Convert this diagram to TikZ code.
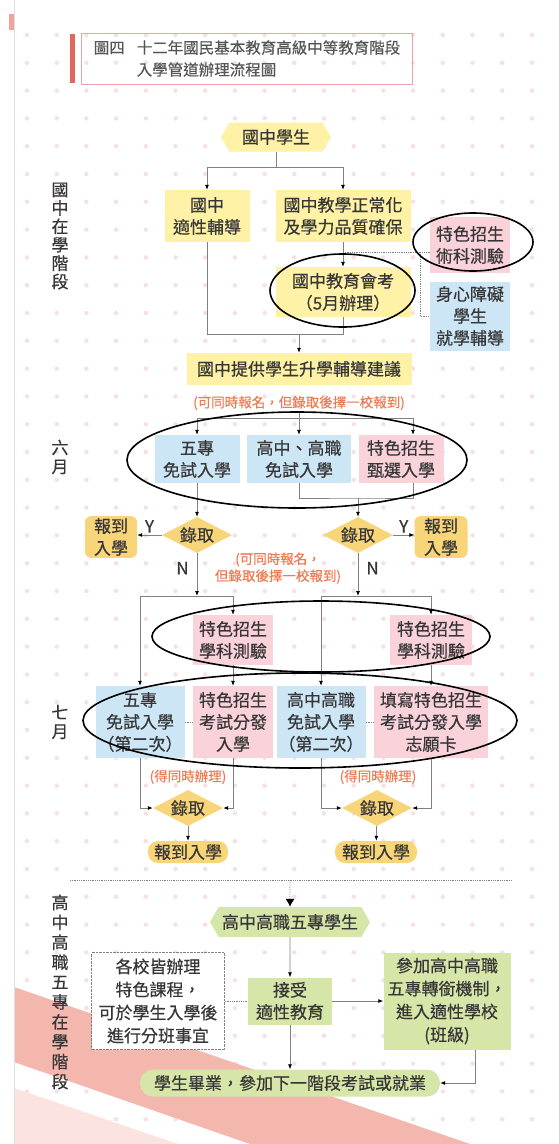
\documentclass[tikz,border=0pt]{standalone}
\usepackage{fontspec}
\newfontfamily\cjk[FakeBold=0.4]{Noto Sans CJK TC}
\usepackage{xcolor}
\usetikzlibrary{arrows.meta,shapes.geometric,shapes.symbols,positioning}

\definecolor{BoxYellow}{HTML}{FFF2A6}
\definecolor{BoxBlue}{HTML}{CDE6F6}
\definecolor{BoxPink}{HTML}{F9D2DA}
\definecolor{BoxGreen}{HTML}{D6E6A8}
\definecolor{BoxGold}{HTML}{F9D57A}
\definecolor{LineGray}{HTML}{808080}
\definecolor{TextGray}{HTML}{363636}
\definecolor{TitleText}{HTML}{555555}
\definecolor{NoteRed}{HTML}{EE7A52}
\definecolor{DotPink}{HTML}{F8DFE3}
\definecolor{BandPink}{HTML}{F3B7AE}
\definecolor{BandLight}{HTML}{FBE4DF}
\definecolor{TitleRed}{HTML}{E4655C}
\definecolor{TitleLine}{HTML}{EDA3A3}

\begin{document}
\begin{tikzpicture}[x=1pt, y=-1pt, >={Latex[length=5pt,width=4pt,black]},
    every node/.style={font=\cjk\fontsize{17}{22}\selectfont, text=TextGray, inner sep=2pt},
    ybox/.style={fill=BoxYellow, align=center},
    bbox/.style={fill=BoxBlue, align=center},
    pbox/.style={fill=BoxPink, align=center},
    gbox/.style={fill=BoxGreen, align=center},
    hexa/.style={signal, signal to=west and east, signal pointer angle=120, inner sep=0pt},
    dec/.style={diamond, aspect=1.9, fill=BoxGold, inner sep=0pt, minimum width=70pt, minimum height=36pt},
    reg/.style={fill=BoxGold, align=center},
    note/.style={text=NoteRed, font=\cjk\fontsize{13.5}{17}\selectfont, align=center},
    vlab/.style={align=center, font=\cjk\fontsize{17}{#1}\selectfont},
    link/.style={draw=LineGray, line width=0.8pt},
    hint/.style={draw=LineGray, densely dotted, line width=0.8pt},
    ring/.style={draw=black, line width=1.6pt}]
    \useasboundingbox (0,0) rectangle (558,1144);

    %% Background
    \fill[white] (0,0) rectangle (558,1144);
    \foreach \i in {0,...,17}
      \foreach \j in {0,...,39}
        \fill[DotPink] (27+29.7*\i, 35+27.8*\j) circle (2.2pt);
    \fill[BandPink] (14,987) -- (470,1144) -- (250,1144) -- (14,1062) -- cycle;
    \fill[BandLight] (14,1088) -- (178,1144) -- (14,1144) -- cycle;
    \draw[gray!25, line width=1pt] (14.5,0) -- (14.5,1144);
    \fill[TitleRed!60] (9,14) rectangle (14,30);

    %% Title
    \fill[TitleRed] (70,34) rectangle (75,83);
    \node at (247,58.5) [draw=TitleLine, line width=0.8pt, minimum width=331pt, minimum height=51pt, align=left, text=TitleText, font=\cjk\fontsize{15.5}{22}\selectfont](title){圖四\hspace{12pt}十二年國民基本教育高級中等教育階段\\\hspace{43pt}入學管道辦理流程圖};

    %% Stage labels
    \node at (60,236) [vlab=18.4](lab1){國\\中\\在\\學\\階\\段};
    \node at (60,457) [vlab=19](lab2){六\\月};
    \node at (60,722) [vlab=19](lab3){七\\月};
    \node at (60,992) [vlab=19.9](lab4){高\\中\\高\\職\\五\\專\\在\\學\\階\\段};

    %% Junior high stage
    \node at (276,137) [hexa, fill=BoxYellow, minimum width=110pt, minimum height=29pt](stu){國中學生};
    \node at (stu) [xshift=-69pt, yshift=-79pt, ybox, minimum width=85pt, minimum height=52pt](gui){國中\\適性輔導};
    \node at (gui) [xshift=136pt, ybox, minimum width=135pt, minimum height=52pt](nor){國中教學正常化\\及學力品質確保};
    \node at (nor) [yshift=-76pt, ybox, minimum width=135pt, minimum height=50pt](exa){國中教育會考\\（5月辦理）};
    \node at (nor) [xshift=127pt, yshift=-29pt, pbox, minimum width=80pt, minimum height=56pt](art){特色招生\\術科測驗};
    \node at (art) [yshift=-71pt, bbox, minimum width=80pt, minimum height=69pt](dis){身心障礙\\學生\\就學輔導};
    \node at (exa) [xshift=-44pt, yshift=-77pt, ybox, minimum width=225pt, minimum height=32pt](adv){國中提供學生升學輔導建議};
    \node at (adv) [yshift=-34pt, note](note1){(可同時報名，但錄取後擇一校報到)};

    %% June
    \node at (adv) [yshift=-90pt, bbox, minimum width=104pt, minimum height=48pt](hig){高中、高職\\免試入學};
    \node at (hig) [xshift=-102pt, bbox, minimum width=85pt, minimum height=48pt](five){五專\\免試入學};
    \node at (hig) [xshift=102pt, pbox, minimum width=85pt, minimum height=48pt](sel){特色招生\\甄選入學};
    \node at (five) [yshift=-76pt, dec](dL){錄取};
    \node at (hig) [xshift=59pt, yshift=-76pt, dec](dR){錄取};
    \node at (dL) [xshift=-86pt, yshift=-2pt, reg, rounded corners=6pt, minimum width=52pt, minimum height=41pt](regL){報到\\入學};
    \node at (dR) [xshift=83pt, yshift=-2pt, reg, rounded corners=6pt, minimum width=53pt, minimum height=41pt](regR){報到\\入學};
    \node at (dL) [xshift=81pt, yshift=-33pt, note](note2){(可同時報名，\\但錄取後擇一校報到)};

    %% July
    \node at (dL) [xshift=36pt, yshift=-105pt, pbox, minimum width=80pt, minimum height=50pt](subL){特色招生\\學科測驗};
    \node at (subL) [yshift=-82pt, pbox, minimum width=80pt, minimum height=72pt](disL){特色招生\\考試分發\\入學};
    \node at (disL) [xshift=-93pt, bbox, minimum width=80pt, minimum height=72pt](fiveB){五專\\免試入學\\（第二次）};
    \node at (dR) [xshift=73pt, yshift=-105pt, pbox, minimum width=82pt, minimum height=50pt](subR){特色招生\\學科測驗};
    \node at (subR) [yshift=-82pt, pbox, minimum width=114pt, minimum height=72pt](fill){填寫特色招生\\考試分發入學\\志願卡};
    \node at (fill) [xshift=-110pt, bbox, minimum width=80pt, minimum height=72pt](higB){高中高職\\免試入學\\（第二次）};
    \node at (disL) [xshift=-45pt, yshift=-55pt, note](note3){(得同時辦理)};
    \node at (fill) [xshift=-53pt, yshift=-55pt, note](note4){(得同時辦理)};
    \node at (note3) [yshift=-31pt, dec](dL2){錄取};
    \node at (note4) [xshift=-1pt, yshift=-31pt, dec](dR2){錄取};
    \node at (dL2) [yshift=-44pt, reg, rounded corners=10pt, minimum width=80pt, minimum height=22pt, inner sep=0pt](regL2){報到入學};
    \node at (dR2) [xshift=-1pt, yshift=-44pt, reg, rounded corners=10pt, minimum width=82pt, minimum height=22pt, inner sep=0pt](regR2){報到入學};

    %% Senior high stage
    \node at (290,922) [hexa, fill=BoxGreen, minimum width=160pt, minimum height=30pt](sec){高中高職五專學生};
    \node at (sec) [yshift=-79pt, gbox, minimum width=84pt, minimum height=47pt](acc){接受\\適性教育};
    \node at (acc) [xshift=-132pt, fill=white, draw=LineGray, densely dotted, align=center, minimum width=133pt, minimum height=97pt, font=\cjk\fontsize{17}{23}\selectfont](sch){各校皆辦理\\特色課程，\\可於學生入學後\\進行分班事宜};
    \node at (acc) [xshift=157pt, gbox, minimum width=127pt, minimum height=97pt, font=\cjk\fontsize{17}{23}\selectfont](tra){參加高中高職\\五專轉銜機制，\\進入適性學校\\(班級)};
    \node at (acc) [yshift=-82pt, gbox, rounded corners=13pt, minimum width=300pt, minimum height=27pt, inner sep=0pt](gra){學生畢業，參加下一階段考試或就業};

    %% Arrows
    \coordinate (s1) at (276,167);
    \draw[link] (stu) -- (s1);
    \draw[link,->] (s1) -| (gui);
    \draw[link,->] (s1) -| (nor);
    \draw[link,->] (nor) -- (exa);
    \coordinate (tap) at (343,252);
    \coordinate (brk) at (420,252);
    \draw[hint] (tap) -- (tap -| art.west);
    \draw[hint] (brk) |- (dis.west);
    \coordinate (j1) at (299,334);
    \draw[link] (gui) |- (j1 -| exa) -- (exa);
    \draw[link,->] (j1) -- (adv);
    \draw[link,->] (note1) -- (hig);
    \coordinate (j2) at (299,418);
    \draw[link,->] (j2) -| (five);
    \draw[link,->] (j2) -| ([xshift=12pt]sel.north);
    \coordinate (j3) at (358,498);
    \draw[link] (hig) |- (j3) -| ([xshift=12pt]sel.south);
    \draw[link,->] (j3) -- (dR);
    \draw[link,->] (five) -- (dL);
    \draw[link,->] (dL.west) -- node[above]{Y} (dL.west -| regL.east);
    \draw[link,->] (dR.east) -- node[above]{Y} (dR.east -| regR.west);
    \coordinate (j4) at (197,596);
    \coordinate (j5) at (358,596);
    \draw[link,->] (dL) -- node[left=6pt, pos=0.35]{N} (j4);
    \draw[link,->] (dR) -- node[right=6pt, pos=0.35]{N} (j5);
    \draw[link] (j4 -| fiveB) -- (j4 -| subL);
    \draw[link,->] (j4 -| fiveB) -- (fiveB);
    \draw[link,->] (j4 -| subL) -- (subL);
    \draw[link,->] (subL) -- (disL);
    \draw[link] (j5 -| higB) -- (j5 -| subR);
    \draw[link,->] (j5 -| higB) -- (higB);
    \draw[link,->] (j5 -| subR) -- (subR);
    \draw[link,->] (subR) -- (fill);
    \draw[hint] (fiveB) -- (disL);
    \draw[hint] (higB) -- (fill);
    \draw[link,->] (fiveB) |- (dL2);
    \draw[link,->] (disL) |- (dL2);
    \draw[link,->] (higB) |- (dR2);
    \draw[link,->] (fill) |- (dR2);
    \draw[link,->] (dL2) -- (regL2);
    \draw[link,->] (dR2) -- (regR2);
    \coordinate (sepL) at (70,880);
    \coordinate (sepR) at (512,880);
    \draw[hint] (sepL) -- (sepR);
    \draw[hint, -{Latex[length=8pt,width=9pt,black]}] (sec |- sepL) -- (sec);
    \draw[link,->] (sec) -- (acc);
    \draw[hint] (sch) -- (acc);
    \draw[link,->] (acc) -- (tra);
    \draw[link,->] (acc) -- (gra);
    \draw[link,->] ([xshift=28pt]tra.south) |- (gra);

    %% Rings
    \draw[ring] (473,242) ellipse [x radius=60pt, y radius=29pt];
    \draw[ring] (342.5,290.5) ellipse [x radius=72.5pt, y radius=36.5pt];
    \draw[ring] (297,460) ellipse [x radius=170pt, y radius=48pt];
    \draw[ring] (321,636.5) ellipse [x radius=169pt, y radius=35.5pt];
    \draw[ring] (300,720.5) ellipse [x radius=217pt, y radius=47.5pt];
\end{tikzpicture}
\end{document}
